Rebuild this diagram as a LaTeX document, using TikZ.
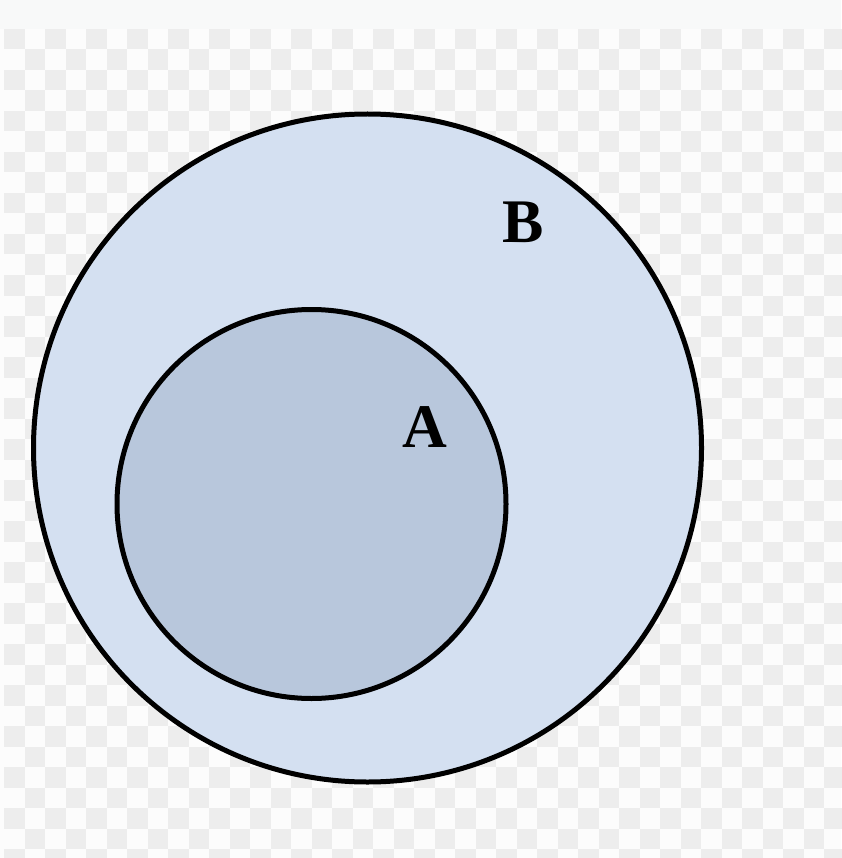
\documentclass[tikz,border=0pt]{standalone}
\usepackage{fontspec}
\setmainfont{Liberation Serif}
\definecolor{checkgray}{HTML}{EDEDED}
\definecolor{checkwhite}{HTML}{FCFCFC}
\definecolor{topstrip}{HTML}{F8F9F9}
\definecolor{bfill}{HTML}{D4E0F1}
\definecolor{afill}{HTML}{B8C7DC}
\begin{document}
\begin{tikzpicture}[x=1pt,y=-1pt,
  setcircle/.style={draw=black,line width=5pt,circle,inner sep=0pt},
  setlabel/.style={font=\fontsize{62}{62}\selectfont\bfseries,anchor=base,inner sep=0pt}]
\useasboundingbox (0,0) rectangle (841,858);
\fill[checkwhite] (0,0) rectangle (841,858);
\fill[topstrip] (0,0) rectangle (841,29);
\foreach \c in {0,...,40}{
  \foreach \r in {0,...,40}{
    \pgfmathparse{int(mod(\c+\r,2))}
    \ifnum\pgfmathresult=0
      \fill[checkgray] ({4+20.5*\c},{29+20.5*\r}) rectangle ++(20.5,20.5);
    \fi
  }
}
\node[setcircle,fill=bfill,minimum size=668pt] (B) at (367.5,448) {};
\node[setcircle,fill=afill,minimum size=389pt] (A) at (311.5,504) {};
\node[setlabel] (labB) at (523,243) {B};
\node[setlabel] (labA) at (424.5,447) {A};
\end{tikzpicture}
\end{document}
